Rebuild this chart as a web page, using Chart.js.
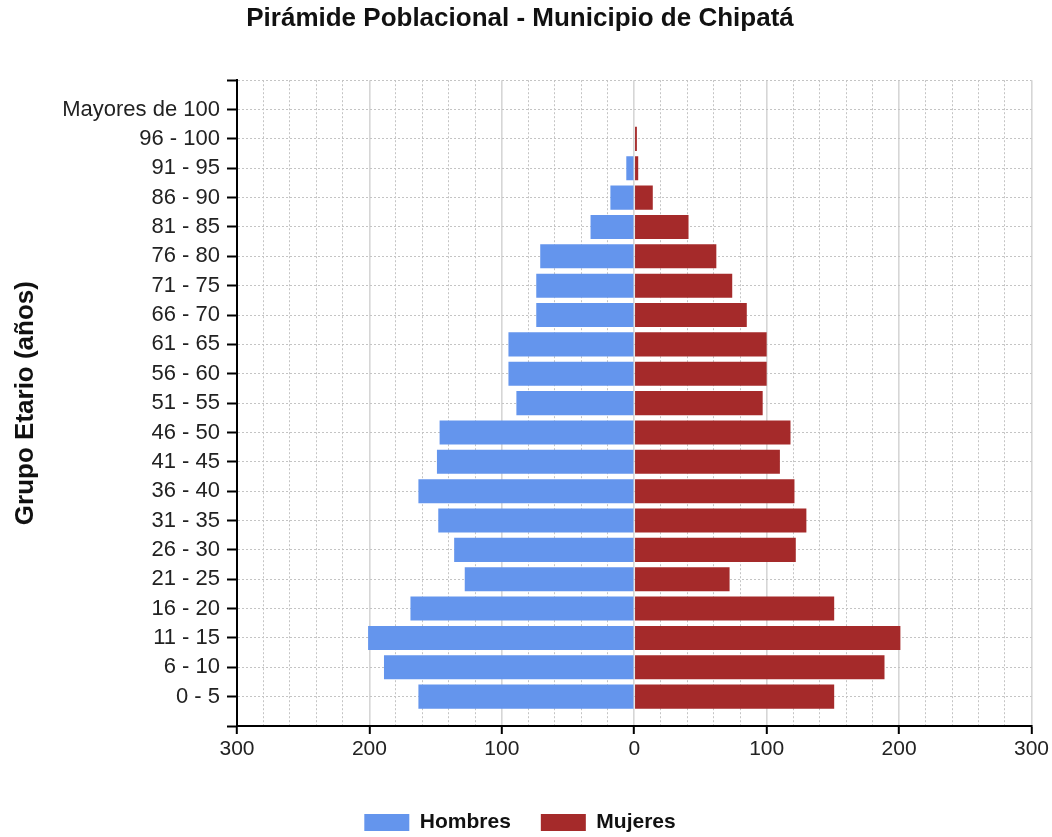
<!DOCTYPE html>
<html>
<head>
<meta charset="utf-8">
<title>Pirámide Poblacional - Municipio de Chipatá</title>
<script src="https://cdn.jsdelivr.net/npm/chart.js@4/dist/chart.umd.min.js"></script>
<style>
    body { margin: 0; background: #fff; }
    #canvas { display: block; }
</style>
</head>
<body>
<canvas id="canvas" width="1052" height="837"></canvas>
<script>
// grupos de edad, de arriba hacia abajo
const grupos = ['Mayores de 100', '96 - 100', '91 - 95', '86 - 90', '81 - 85', '76 - 80', '71 - 75',
    '66 - 70', '61 - 65', '56 - 60', '51 - 55', '46 - 50', '41 - 45', '36 - 40', '31 - 35',
    '26 - 30', '21 - 25', '16 - 20', '11 - 15', '6 - 10', '0 - 5'];
const hombres = [0, 0, 6, 18, 33, 71, 74, 74, 95, 95, 89, 147, 149, 163, 148, 136, 128, 169, 201, 189, 163];
const mujeres = [0, 2, 3, 14, 41, 62, 74, 85, 100, 100, 97, 118, 110, 121, 130, 122, 72, 151, 201, 189, 151];
const xMin = -300;
const xMax = 300;
const xStep = 20;
const xMajor = 100;

const fuente = 'Liberation Sans, Arial, sans-serif';

// un espacio vacio arriba y abajo, como en la grafica original
const labels = [''].concat(grupos, ['']);
const dataHombres = [null].concat(hombres.map(function (v) { return -v; }), [null]);
const dataMujeres = [null].concat(mujeres, [null]);

function esMayor(ctx) {
    return ctx.tick && Math.round(ctx.tick.value) % xMajor === 0;
}

const data = {
    labels: labels,
    datasets: [
        {
            label: 'Hombres',
            backgroundColor: '#6495ED',
            data: dataHombres,
        },
        {
            label: 'Mujeres',
            backgroundColor: '#A52A2A',
            data: dataMujeres,
        },
    ]
};

const config = {
    type: 'bar',
    data: data,
    options: {
        indexAxis: 'y',
        responsive: false,
        animation: false,
        devicePixelRatio: 1,
        categoryPercentage: 1,
        barPercentage: 0.82,
        layout: {
            padding: { left: -12, right: 0, top: 0, bottom: -6 }
        },
        plugins: {
            tooltip: { enabled: false },
            title: {
                display: true,
                text: 'Pirámide Poblacional - Municipio de Chipatá',
                color: '#111',
                font: { family: fuente, size: 26, weight: 'bold' },
                padding: { top: 3, bottom: 46 }
            },
            legend: {
                position: 'bottom',
                labels: {
                    color: '#111',
                    boxWidth: 45,
                    boxHeight: 17,
                    padding: 30,
                    font: { family: fuente, size: 21, weight: 'bold' }
                }
            }
        },
        scales: {
            x: {
                stacked: true,
                min: xMin,
                max: xMax,
                afterFit: function (s) { s.height = 56; },
                ticks: {
                    stepSize: xStep,
                    autoSkip: false,
                    maxRotation: 0,
                    color: '#222',
                    padding: 3,
                    font: { family: fuente, size: 21 },
                    callback: function (v) {
                        return Math.round(v) % xMajor === 0 ? Math.abs(Math.round(v)) : '';
                    }
                },
                grid: {
                    color: function (ctx) { return esMayor(ctx) ? '#d6d6d6' : '#c4c4c4'; },
                    lineWidth: function (ctx) { return esMayor(ctx) ? 1.6 : 1; },
                    tickColor: function (ctx) { return esMayor(ctx) ? '#000' : 'rgba(0,0,0,0)'; },
                    tickLength: 8,
                    tickWidth: 2
                },
                border: {
                    color: '#000',
                    width: 2,
                    dash: function (ctx) { return esMayor(ctx) ? [] : [2, 2]; }
                }
            },
            y: {
                stacked: true,
                offset: false,
                afterFit: function (s) { s.width = 249; },
                title: {
                    display: true,
                    text: 'Grupo Etario (años)',
                    color: '#111',
                    font: { family: fuente, size: 26, weight: 'bold' },
                    padding: { top: 22, bottom: 0 }
                },
                ticks: {
                    autoSkip: false,
                    color: '#222',
                    padding: 7,
                    font: { family: fuente, size: 22 }
                },
                grid: {
                    offset: false,
                    color: '#c4c4c4',
                    lineWidth: 1,
                    tickColor: '#000',
                    tickLength: 10,
                    tickWidth: 2
                },
                border: {
                    color: '#000',
                    width: 2,
                    dash: [2, 2]
                }
            }
        }
    }
};

const canvas = document.getElementById("canvas");
const chart = new Chart(canvas, config);
</script>
</body>
</html>
